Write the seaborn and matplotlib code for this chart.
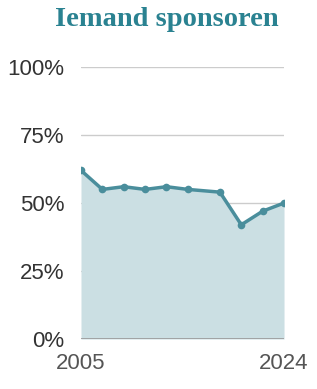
import pandas as pd
import seaborn as sns
import matplotlib.pyplot as plt

years = [2005, 2007, 2009, 2011, 2013, 2015, 2018, 2020, 2022, 2024]
share = [62, 55, 56, 55, 56, 55, 54, 42, 47, 50]
y_ticks = [0, 25, 50, 75, 100]
title = 'Iemand sponsoren'

df = pd.DataFrame({'year': years, 'share': share})

sns.set_style('white')
plt.rcParams['font.family'] = ['Liberation Sans', 'DejaVu Sans']

fig = plt.figure(figsize=(3.17, 3.89), dpi=100)
ax = fig.add_axes([0.2555, 0.1285, 0.6405, 0.6992])

line_c = '#4a8e9c'
ax.fill_between(df['year'], df['share'], 0, color='#cbdfe3', lw=0, zorder=1)
sns.lineplot(data=df, x='year', y='share', ax=ax, color=line_c, lw=2.5,
             marker='o', markersize=5.5, markeredgewidth=0, zorder=3)

for t in y_ticks[1:]:
    ax.axhline(t, color='#cccccc', lw=1, zorder=0)
ax.axhline(0, color='#999999', lw=1.2, zorder=2)

ax.set_xlim(2005, 2024)
ax.set_ylim(0, 100)
ax.set_yticks(y_ticks)
ax.set_yticklabels([f'{t}%' for t in y_ticks])
ax.set_xticks([2005, 2024])
ax.tick_params(axis='y', length=0, pad=12, labelsize=16, labelcolor='#333333')
ax.tick_params(axis='x', length=0, pad=10, labelsize=16, labelcolor='#555555')
ax.set_xlabel('')
ax.set_ylabel('')
sns.despine(ax=ax, left=True, bottom=True)

fig.text(0.527, 0.949, title, ha='center', va='center', fontsize=20.5,
         fontweight='bold', color='#2a8291', family=['Liberation Serif'])

fig.savefig('out.png', dpi=100)
